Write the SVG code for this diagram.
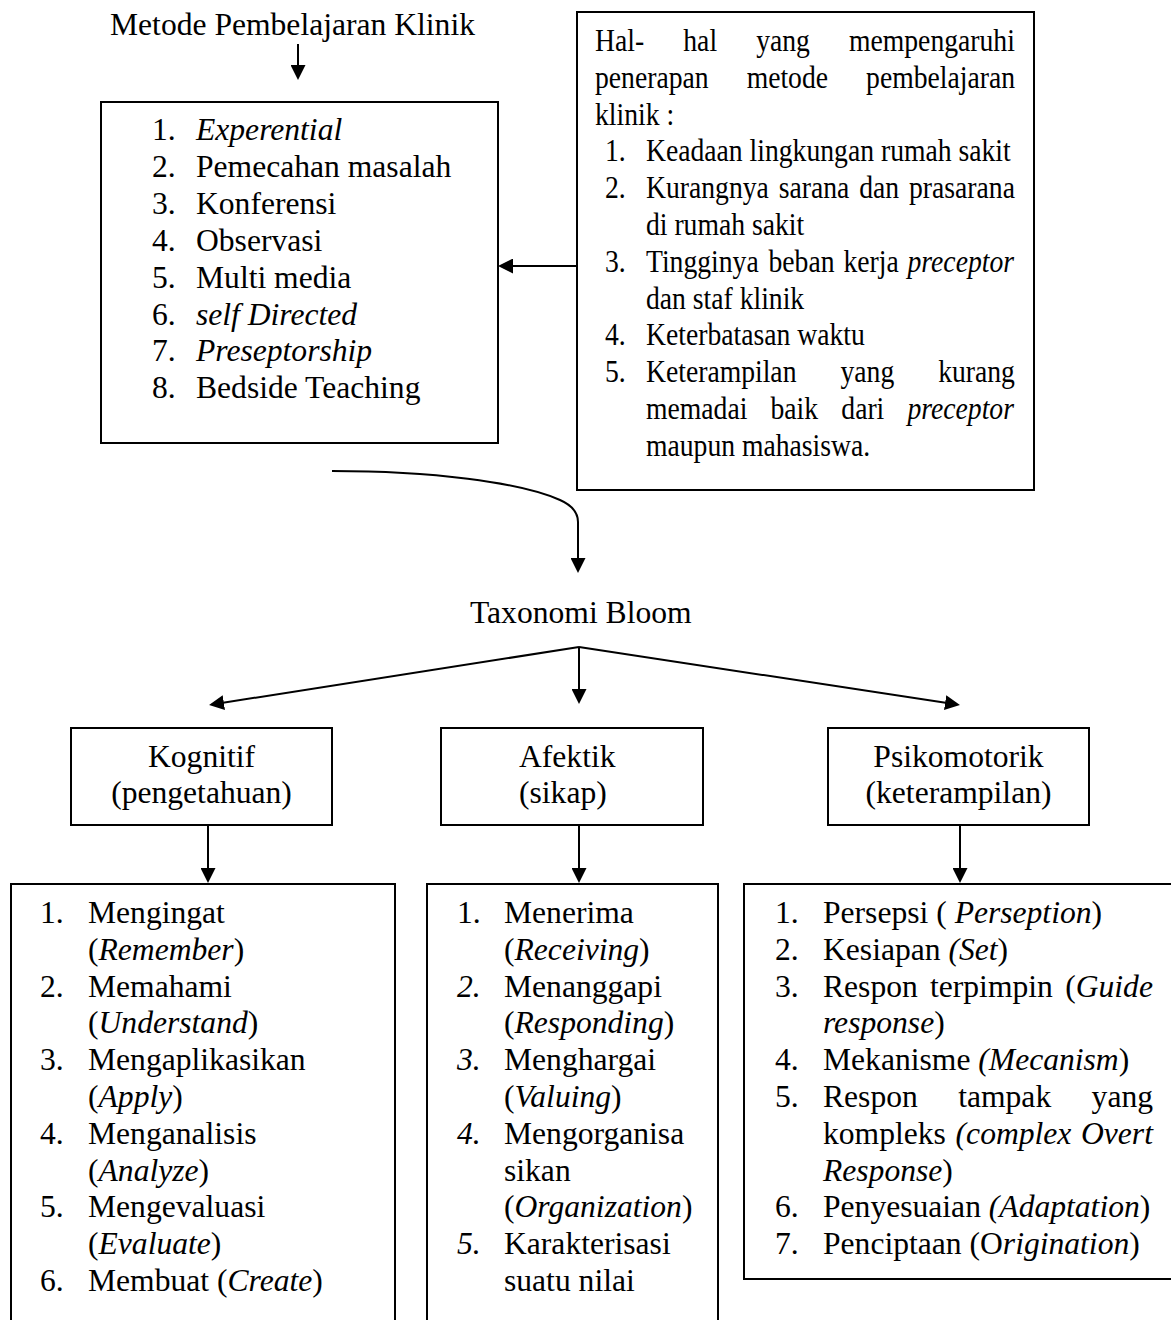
<svg xmlns="http://www.w3.org/2000/svg" width="1171" height="1320" viewBox="0 0 1171 1320">
<defs>
<style>
.t{font-family:"Liberation Serif","Times New Roman",serif;font-size:31.6px;fill:#000}
.i{font-style:italic}
.box{fill:#fff;stroke:#000;stroke-width:2}
.conn{fill:none;stroke:#000;stroke-width:2}
</style>
<marker id="ah" markerUnits="userSpaceOnUse" markerWidth="15" markerHeight="15" refX="12" refY="7.5" orient="auto" viewBox="0 0 15 15">
<path d="M0,0 L15,7.5 L0,15 z" fill="#000"/>
</marker>
</defs>
<rect x="0" y="0" width="1171" height="1320" fill="#fff"/>

<g id="title">
<text class="t" x="110" y="35">Metode Pembelajaran Klinik</text>
</g>

<g id="metode-list">
<rect class="box" x="101" y="102" width="397" height="341"/>
<text class="t" x="152" y="140">1.</text><text class="t i" x="196" y="140">Experential</text>
<text class="t" x="152" y="177">2.</text><text class="t" x="196" y="177">Pemecahan masalah</text>
<text class="t" x="152" y="214">3.</text><text class="t" x="196" y="214">Konferensi</text>
<text class="t" x="152" y="251">4.</text><text class="t" x="196" y="251">Observasi</text>
<text class="t" x="152" y="288">5.</text><text class="t" x="196" y="288">Multi media</text>
<text class="t" x="152" y="325">6.</text><text class="t i" x="196" y="325">self Directed</text>
<text class="t" x="152" y="361">7.</text><text class="t i" x="196" y="361">Preseptorship</text>
<text class="t" x="152" y="398">8.</text><text class="t" x="196" y="398">Bedside Teaching</text>
</g>

<g id="faktor">
<rect class="box" x="577" y="12" width="457" height="478"/>
<g transform="matrix(0.875 0 0 1 595 0)">
<text class="t" y="51"><tspan x="0">Hal-</tspan><tspan x="100.9">hal</tspan><tspan x="184.2">yang</tspan><tspan x="290.3">mempengaruhi</tspan></text>
<text class="t" y="88"><tspan x="0">penerapan</tspan><tspan x="173.3">metode</tspan><tspan x="309.8">pembelajaran</tspan></text>
<text class="t" x="0" y="125">klinik :</text>
<text class="t" x="11.4" y="161">1.</text><text class="t" x="58.3" y="161">Keadaan lingkungan rumah sakit</text>
<text class="t" x="11.4" y="198">2.</text>
<text class="t" y="198"><tspan x="58.3">Kurangnya</tspan><tspan x="210">sarana</tspan><tspan x="302">dan</tspan><tspan x="358.9">prasarana</tspan></text>
<text class="t" x="58.3" y="235">di rumah sakit</text>
<text class="t" x="11.4" y="272">3.</text>
<text class="t" y="272"><tspan x="58.3">Tingginya</tspan><tspan x="198.3">beban</tspan><tspan x="283.9">kerja</tspan><tspan x="357.2" class="i">preceptor</tspan></text>
<text class="t" x="58.3" y="309">dan staf klinik</text>
<text class="t" x="11.4" y="345">4.</text><text class="t" x="58.3" y="345">Keterbatasan waktu</text>
<text class="t" x="11.4" y="382">5.</text>
<text class="t" y="382"><tspan x="58.3">Keterampilan</tspan><tspan x="280.6">yang</tspan><tspan x="392.2">kurang</tspan></text>
<text class="t" y="419"><tspan x="58.3">memadai</tspan><tspan x="200.6">baik</tspan><tspan x="281.5">dari</tspan><tspan x="357.1" class="i">preceptor</tspan></text>
<text class="t" x="58.3" y="456">maupun mahasiswa.</text>
</g>
</g>

<g id="taxonomi">
<text class="t" x="470" y="623">Taxonomi Bloom</text>
</g>

<g id="kognitif">
<rect class="box" x="71" y="728" width="261" height="97"/>
<text class="t" x="201.5" y="767" text-anchor="middle">Kognitif</text>
<text class="t" x="201.5" y="803" text-anchor="middle">(pengetahuan)</text>
</g>

<g id="afektik">
<rect class="box" x="441" y="728" width="262" height="97"/>
<text class="t" x="519" y="767">Afektik</text>
<text class="t" x="519" y="803">(sikap)</text>
</g>

<g id="psikomotorik">
<rect class="box" x="828" y="728" width="261" height="97"/>
<text class="t" x="958.5" y="767" text-anchor="middle">Psikomotorik</text>
<text class="t" x="958.5" y="803" text-anchor="middle">(keterampilan)</text>
</g>

<g id="kognitif-list">
<rect class="box" x="11" y="884" width="384" height="460"/>
<text class="t" x="40" y="923">1.</text><text class="t" x="88" y="923">Mengingat</text>
<text class="t" x="88" y="959.8">(<tspan class="i">Remember</tspan>)</text>
<text class="t" x="40" y="996.6">2.</text><text class="t" x="88" y="996.6">Memahami</text>
<text class="t" x="88" y="1033.4">(<tspan class="i">Understand</tspan>)</text>
<text class="t" x="40" y="1070.2">3.</text><text class="t" x="88" y="1070.2">Mengaplikasikan</text>
<text class="t" x="88" y="1107">(<tspan class="i">Apply</tspan>)</text>
<text class="t" x="40" y="1143.8">4.</text><text class="t" x="88" y="1143.8">Menganalisis</text>
<text class="t" x="88" y="1180.6">(<tspan class="i">Analyze</tspan>)</text>
<text class="t" x="40" y="1217.4">5.</text><text class="t" x="88" y="1217.4">Mengevaluasi</text>
<text class="t" x="88" y="1254.2">(<tspan class="i">Evaluate</tspan>)</text>
<text class="t" x="40" y="1291">6.</text><text class="t" x="88" y="1291">Membuat (<tspan class="i">Create</tspan>)</text>
</g>

<g id="afektik-list">
<rect class="box" x="427" y="884" width="291" height="460"/>
<text class="t" x="457" y="923">1.</text><text class="t" x="504" y="923">Menerima</text>
<text class="t" x="504" y="959.8">(<tspan class="i">Receiving</tspan>)</text>
<text class="t i" x="457" y="996.6">2.</text><text class="t" x="504" y="996.6">Menanggapi</text>
<text class="t" x="504" y="1033.4">(<tspan class="i">Responding</tspan>)</text>
<text class="t i" x="457" y="1070.2">3.</text><text class="t" x="504" y="1070.2">Menghargai</text>
<text class="t" x="504" y="1107">(<tspan class="i">Valuing</tspan>)</text>
<text class="t i" x="457" y="1143.8">4.</text><text class="t" x="504" y="1143.8">Mengorganisa</text>
<text class="t" x="504" y="1180.6">sikan</text>
<text class="t" x="504" y="1217.4">(<tspan class="i">Organization</tspan>)</text>
<text class="t i" x="457" y="1254.2">5.</text><text class="t" x="504" y="1254.2">Karakterisasi</text>
<text class="t" x="504" y="1291">suatu nilai</text>
</g>

<g id="psikomotorik-list">
<rect class="box" x="744" y="884" width="440" height="395"/>
<text class="t" x="775" y="923">1.</text><text class="t" x="823" y="923">Persepsi ( <tspan class="i">Perseption</tspan>)</text>
<text class="t" x="775" y="959.8">2.</text><text class="t" x="823" y="959.8">Kesiapan <tspan class="i">(Set</tspan>)</text>
<text class="t" x="775" y="996.6">3.</text>
<text class="t" y="996.6"><tspan x="823">Respon</tspan><tspan x="930">terpimpin</tspan><tspan x="1065.2">(</tspan><tspan class="i">Guide</tspan></text>
<text class="t" x="823" y="1033.4"><tspan class="i">response</tspan>)</text>
<text class="t" x="775" y="1070.2">4.</text><text class="t" x="823" y="1070.2">Mekanisme <tspan class="i">(Mecanism</tspan>)</text>
<text class="t" x="775" y="1107">5.</text>
<text class="t" y="1107"><tspan x="823">Respon</tspan><tspan x="958.2">tampak</tspan><tspan x="1091.6">yang</tspan></text>
<text class="t" y="1143.8"><tspan x="823">kompleks</tspan><tspan x="955.6" class="i">(complex</tspan><tspan x="1081" class="i">Overt</tspan></text>
<text class="t" x="823" y="1180.6"><tspan class="i">Response</tspan>)</text>
<text class="t" x="775" y="1217.4">6.</text><text class="t" x="823" y="1217.4">Penyesuaian <tspan class="i">(Adaptation</tspan>)</text>
<text class="t" x="775" y="1254.2">7.</text><text class="t" x="823" y="1254.2">Penciptaan (O<tspan class="i">rigination</tspan>)</text>
</g>

<g id="connectors">
<path class="conn" d="M298,44 L298,77" marker-end="url(#ah)"/>
<path class="conn" d="M577,266 L501,266" marker-end="url(#ah)"/>
<path class="conn" d="M332,471 C430,471 520,482 560,500 Q578,508 578,522 L578,570" marker-end="url(#ah)"/>
<path class="conn" d="M579,647 L212,704.5" marker-end="url(#ah)"/>
<path class="conn" d="M579,647 L579,701" marker-end="url(#ah)"/>
<path class="conn" d="M579,647 L957,704.5" marker-end="url(#ah)"/>
<path class="conn" d="M208,825 L208,880" marker-end="url(#ah)"/>
<path class="conn" d="M579,825 L579,880" marker-end="url(#ah)"/>
<path class="conn" d="M960,825 L960,880" marker-end="url(#ah)"/>
</g>
</svg>
